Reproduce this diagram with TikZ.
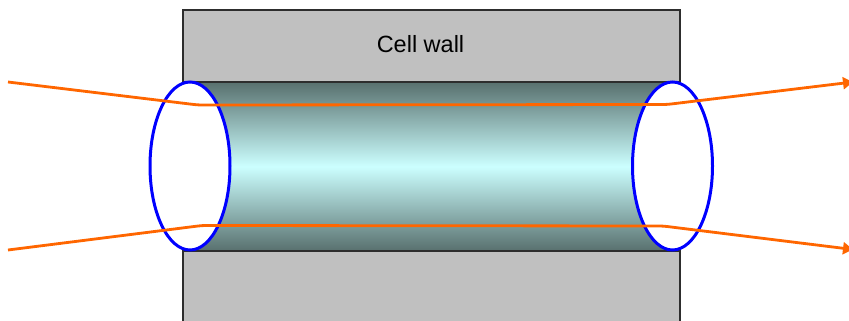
\documentclass[tikz,border=0pt]{standalone}
\usepackage{fontspec}
\setmainfont{Liberation Sans}
\usetikzlibrary{arrows.meta,shapes.geometric}
\definecolor{wallgray}{RGB}{192,192,192}
\definecolor{walledge}{RGB}{45,45,45}
\definecolor{poredark}{RGB}{88,112,110}
\definecolor{porelight}{RGB}{204,255,255}
\definecolor{rayorange}{RGB}{255,102,0}
\definecolor{rimblue}{RGB}{0,0,255}
\begin{document}
\begin{tikzpicture}[x=1pt,y=-1pt,
  wall/.style={rectangle,fill=wallgray,draw=walledge,line width=1.4pt,inner sep=0pt,minimum width=497pt},
  pore/.style={rectangle,inner sep=0pt,minimum width=482pt,minimum height=169pt,
    top color=poredark,bottom color=poredark,middle color=porelight},
  rim/.style={ellipse,draw=rimblue,fill=white,line width=3pt,inner sep=0pt,
    minimum width=80pt,minimum height=168pt},
  ray/.style={draw=rayorange,line width=2.8pt,rounded corners=4pt,
    -{Triangle[length=10pt,width=12pt]}},
  label/.style={font=\fontsize{23.5}{27}\selectfont,text=black}]
\useasboundingbox (0,0) rectangle (849,321);
\clip (0,0) rectangle (849,321);

% channel through the wall
\node[pore] (pore) at (431,166.5) {};

% the two halves of the cell wall
\node[wall,minimum height=72pt] (topwall) at (431.5,46) {};
\node[wall,minimum height=100pt] (botwall) at (431.5,301) {};
\node[label] (walltext) at (420.5,44) {Cell wall};

% openings at both ends
\node[rim] (rimL) at (190,166) {};
\node[rim] (rimR) at (672.5,166) {};

% rays passing through the channel
\coordinate (ua) at (8,82);
\coordinate (ub) at (198,105);
\coordinate (uc) at (667,104.5);
\coordinate (ud) at (853,82);
\coordinate (la) at (8,250);
\coordinate (lb) at (202,225.5);
\coordinate (lc) at (663,226);
\coordinate (ld) at (853,249.5);
\draw[ray] (ua) -- (ub) -- (uc) -- (ud);
\draw[ray] (la) -- (lb) -- (lc) -- (ld);
\end{tikzpicture}
\end{document}
